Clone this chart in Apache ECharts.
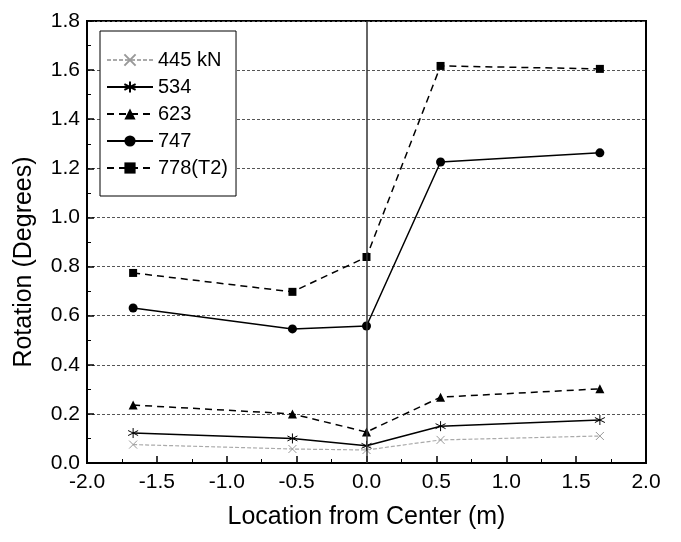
<!DOCTYPE html>
<html><head><meta charset="utf-8">
<script src="https://cdn.jsdelivr.net/npm/echarts@6/dist/echarts.min.js"></script>
<style>html,body{margin:0;padding:0;background:#fff}#c{width:681px;height:542px}</style>
</head><body><div id="c"></div>
<script>
const xLocations = [-1.67, -0.53, 0.0, 0.53, 1.67];
const seriesNames = ['445 kN', '534', '623', '747', '778(T2)'];
const rot445 = [0.075, 0.057, 0.053, 0.094, 0.110];
const rot534 = [0.122, 0.100, 0.070, 0.150, 0.175];
const rot623 = [0.236, 0.200, 0.126, 0.268, 0.302];
const rot747 = [0.631, 0.546, 0.558, 1.226, 1.263];
const rot778 = [0.774, 0.697, 0.839, 1.617, 1.605];

const pair = v => xLocations.map((x, i) => [x, v[i]]);
const font = 'Liberation Sans, Arial, sans-serif';
const xSym = 'path://M0,0L10,10M10,0L0,10';
const starSym = 'path://M5,0L5,10M0,2.5L10,7.5M0,7.5L10,2.5';

const chart = echarts.init(document.getElementById('c'));
chart.setOption({
  animation: false,
  backgroundColor: '#fff',
  grid: { left: 87, right: 35, top: 21, bottom: 79, show: true, borderColor: '#000', borderWidth: 2 },
  legend: {
    orient: 'vertical', left: 100, top: 31,
    padding: [19, 8, 18, 6], itemWidth: 46, itemHeight: 14, itemGap: 7,
    borderColor: '#000', borderWidth: 1, backgroundColor: '#fff',
    textStyle: { fontFamily: font, fontSize: 20, color: '#000' },
    data: seriesNames
  },
  xAxis: {
    type: 'value', min: -2, max: 2, interval: 0.5,
    name: 'Location from Center (m)', nameLocation: 'middle', nameGap: 42,
    nameTextStyle: { fontFamily: font, fontSize: 25, color: '#000' },
    axisLine: { onZero: false, lineStyle: { color: '#000', width: 2 } },
    axisTick: { inside: true, length: 7, lineStyle: { color: '#000', width: 1.5 } },
    minorTick: { show: true, splitNumber: 2, length: 4, lineStyle: { color: '#000' } },
    splitLine: { show: false },
    axisLabel: { fontFamily: font, fontSize: 21, color: '#000', margin: 9, formatter: v => v.toFixed(1) }
  },
  yAxis: {
    type: 'value', min: 0, max: 1.8, interval: 0.2,
    name: 'Rotation (Degrees)', nameLocation: 'middle', nameGap: 50,
    nameTextStyle: { fontFamily: font, fontSize: 25, color: '#000', padding: [0, 40, 0, 0] },
    axisLine: { show: true, onZero: false, lineStyle: { color: '#000', width: 2 } },
    axisTick: { inside: true, length: 7, lineStyle: { color: '#000', width: 1.5 } },
    minorTick: { show: true, splitNumber: 2, length: 4, lineStyle: { color: '#000' } },
    splitLine: { show: true, lineStyle: { color: '#555', width: 1, type: [3, 2] } },
    axisLabel: { fontFamily: font, fontSize: 21, color: '#000', margin: 7, formatter: v => v.toFixed(1) }
  },
  series: [
    { name: seriesNames[0], type: 'line', data: pair(rot445), symbol: xSym, symbolSize: 8,
      itemStyle: { color: '#aaa', borderColor: '#999', borderWidth: 1 },
      lineStyle: { color: '#aaa', width: 1.2, type: [4, 2] },
      markLine: { silent: true, symbol: 'none', label: { show: false },
        lineStyle: { color: '#333', width: 1.5, type: 'solid' }, data: [{ xAxis: 0 }] } },
    { name: seriesNames[1], type: 'line', data: pair(rot534), symbol: starSym, symbolSize: 10,
      itemStyle: { color: '#000', borderColor: '#000', borderWidth: 1 },
      lineStyle: { color: '#000', width: 1.5, type: 'solid' } },
    { name: seriesNames[2], type: 'line', data: pair(rot623), symbol: 'triangle', symbolSize: 9,
      itemStyle: { color: '#000' },
      lineStyle: { color: '#000', width: 1.5, type: [7, 5] } },
    { name: seriesNames[3], type: 'line', data: pair(rot747), symbol: 'circle', symbolSize: 9,
      itemStyle: { color: '#000' },
      lineStyle: { color: '#000', width: 1.5, type: 'solid' } },
    { name: seriesNames[4], type: 'line', data: pair(rot778), symbol: 'rect', symbolSize: 8,
      itemStyle: { color: '#000' },
      lineStyle: { color: '#000', width: 1.5, type: [7, 5] } }
  ]
});
</script></body></html>
